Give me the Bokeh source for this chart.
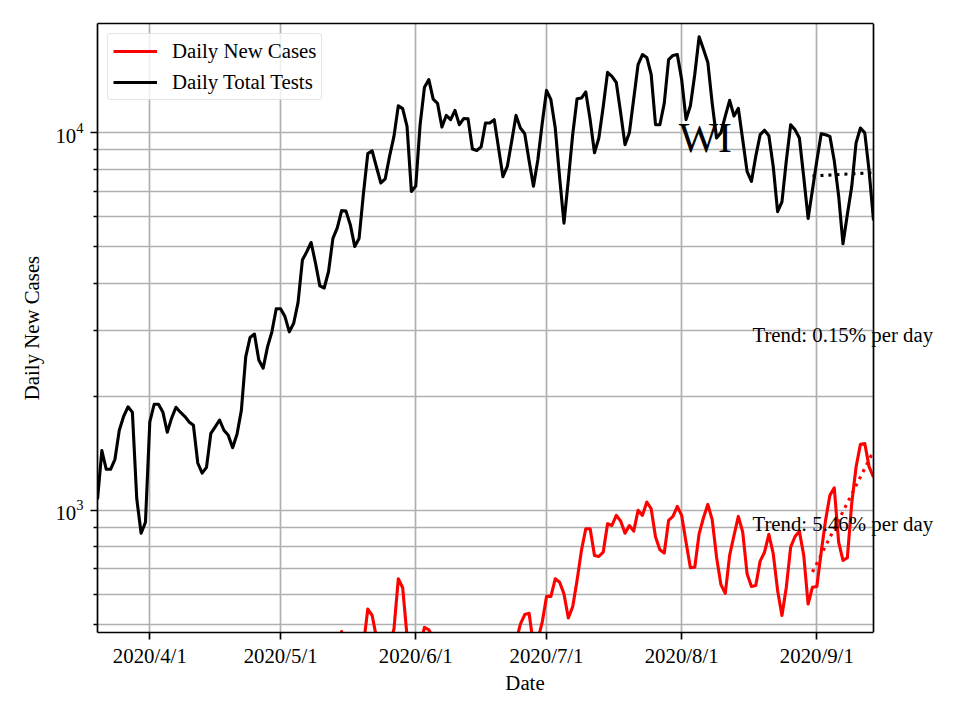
import pandas as pd
from datetime import datetime
from bokeh.plotting import figure
from bokeh.models import (Range1d, FixedTicker, LogTickFormatter, Label, Legend,
                          BoxAnnotation, Span, LinearAxis)
from bokeh.embed import file_html
from bokeh.resources import INLINE

# ---------------- data ----------------
start_date = "2020-03-20"

daily_tests = [
    1070, 1440, 1285, 1285, 1365, 1630, 1775, 1880, 1820, 1075,
    870, 930, 1715, 1910, 1910, 1820, 1610, 1755, 1875, 1820,
    1775, 1715, 1680, 1335, 1255, 1300, 1600, 1665, 1735, 1630,
    1580, 1465, 1590, 1840, 2550, 2870, 2930, 2500, 2380, 2710,
    2970, 3420, 3420, 3260, 2970, 3130, 3550, 4600, 4840, 5120,
    4520, 3930, 3880, 4290, 5250, 5600, 6220, 6200, 5700, 5000,
    5250, 6900, 8800, 8950, 8100, 7360, 7550, 8670, 9780, 11790,
    11580, 10390, 6990, 7220, 10500, 13200, 13820, 12270, 11960, 10350,
    11110, 10830, 11460, 10500, 10900, 10880, 9050, 8970, 9170, 10610,
    10610, 10830, 9100, 7650, 8140, 9480, 11110, 10290, 9940, 8430,
    7220, 8470, 10560, 12940, 12230, 10290, 7620, 5760, 7500, 9880,
    12300, 12350, 12820, 10830, 8850, 9680, 11720, 14450, 14100, 13580,
    11290, 9300, 10000, 12300, 15150, 16100, 15820, 14260, 10500, 10500,
    11960, 15620, 16020, 16100, 13820, 10830, 11790, 14260, 17950, 16630,
    15350, 11960, 9680, 9990, 11070, 12180, 11070, 11600, 9580, 7900,
    7430, 8670, 9880, 10150, 9820, 8140, 6180, 6560, 8430, 10500,
    10180, 9680, 7620, 5930, 7060, 8430, 9940, 9880, 9780, 8430,
    6810, 5080, 6070, 7190, 9400, 10290, 9990, 7900, 5860,
]

daily_cases = [
    50, 75, 90, 60, 40, 160, 120, 100, 140, 160,
    200, 90, 200, 160, 170, 150, 200, 140, 180, 130,
    100, 80, 100, 110, 130, 150, 180, 160, 180, 130,
    140, 190, 160, 180, 220, 210, 300, 250, 190, 250,
    180, 320, 330, 340, 300, 250, 300, 340, 370, 360,
    330, 240, 280, 300, 360, 430, 478, 360, 300, 280,
    330, 440, 548, 527, 460, 400, 330, 440, 485, 659,
    624, 465, 380, 350, 440, 490, 483, 460, 400, 280,
    300, 350, 330, 380, 360, 300, 250, 290, 330, 370,
    350, 380, 310, 280, 400, 420, 450, 500, 530, 534,
    440, 455, 505, 592, 592, 659, 645, 601, 519, 556,
    652, 783, 894, 894, 760, 755, 775, 922, 912, 970,
    937, 870, 912, 881, 1000, 970, 1052, 1010, 850, 787,
    771, 941, 964, 1025, 970, 824, 705, 707, 867, 956,
    1037, 945, 752, 636, 603, 760, 858, 964, 876, 680,
    629, 633, 734, 775, 864, 768, 614, 527, 626, 799,
    853, 881, 760, 565, 626, 629, 775, 941, 1096, 1148,
    824, 737, 749, 1042, 1303, 1497, 1503, 1303, 1225,
]

trend_dates = ["2020-08-31", "2020-09-14"]
tests_trend = [7680, 7840]
cases_trend = [687, 1436]
trend_texts = ["Trend: 0.15% per day", "Trend: 5.46% per day"]
state_label = "WI"

x_tick_dates = ["2020-04-01", "2020-05-01", "2020-06-01", "2020-07-01", "2020-08-01", "2020-09-01"]
x_tick_labels = ["2020/4/1", "2020/5/1", "2020/6/1", "2020/7/1", "2020/8/1", "2020/9/1"]
y_major_ticks = [1000, 10000]
y_minor_ticks = [500, 600, 700, 800, 900, 2000, 3000, 4000, 5000, 6000, 7000, 8000, 9000]

# ---------------- helpers ----------------
EPOCH = datetime(1970, 1, 1)


def ms(d):
    return (pd.Timestamp(d).to_pydatetime() - EPOCH).total_seconds() * 1000.0


dates = pd.date_range(start_date, periods=len(daily_tests), freq="D")
trend_x = [pd.Timestamp(d) for d in trend_dates]

FONT = "Liberation Serif"
FS = "20.8px"
LW = 3.1
GRID = "#b0b0b0"

W, H = 952, 712
LEFT, TOP, AX_RIGHT, BOTTOM = 97, 23, 873, 632   # axes box in page pixels

x0, x1 = ms(dates[0]), ms(dates[-1])
# the frame extends to the right edge of the figure so that the trend texts are not clipped;
# the part right of the axes box is masked in white
x_end = x1 + (x1 - x0) * (W - AX_RIGHT) / (AX_RIGHT - LEFT)

p = figure(
    width=W, height=H,
    x_axis_type="datetime", y_axis_type="log",
    x_range=Range1d(x0, x_end),
    y_range=Range1d(475, 19460),
    output_backend="svg", toolbar_location=None,
    min_border_left=LEFT, min_border_right=0, min_border_top=TOP, min_border_bottom=H - BOTTOM,
)
p.background_fill_color = "white"
p.border_fill_color = "white"
p.outline_line_color = None

r_cases = p.line(dates, daily_cases, line_color="#ff0000", line_width=LW, line_join="round")
r_tests = p.line(dates, daily_tests, line_color="#000000", line_width=LW, line_join="round")
p.line(trend_x, tests_trend, line_color="#000000", line_width=LW, line_dash="3 5")
p.line(trend_x, cases_trend, line_color="#ff0000", line_width=LW, line_dash="3 5")

# axes
xax = p.xaxis[0]
xax.bounds = (x0, x1)
xax.ticker = FixedTicker(ticks=[ms(d) for d in x_tick_dates], minor_ticks=[])
xax.major_label_overrides = {int(ms(d)): lab for d, lab in zip(x_tick_dates, x_tick_labels)}
yax = p.yaxis[0]
yax.ticker = FixedTicker(ticks=y_major_ticks, minor_ticks=y_minor_ticks)
yax.formatter = LogTickFormatter()

for ax in (xax, yax):
    ax.axis_line_color = "black"
    ax.axis_line_width = 1.7
    ax.major_tick_line_color = "black"
    ax.major_tick_line_width = 1.7
    ax.minor_tick_line_color = "black"
    ax.minor_tick_line_width = 1.3
    ax.major_tick_out = 7
    ax.major_tick_in = 0
    ax.minor_tick_in = 0
    ax.major_label_text_font = FONT
    ax.major_label_text_font_size = FS
    ax.major_label_text_color = "black"
    ax.axis_label_text_font = FONT
    ax.axis_label_text_font_size = FS
    ax.axis_label_text_font_style = "normal"
    ax.axis_label_text_color = "black"
xax.minor_tick_out = 0
yax.minor_tick_out = 4
xax.major_label_standoff = 4
yax.major_label_standoff = 7
xax.axis_label = "Date"
yax.axis_label = "Daily New Cases"
xax.axis_label_standoff = 1
yax.axis_label_standoff = 9

# top spine
top_axis = LinearAxis(bounds=(x0, x1), ticker=FixedTicker(ticks=[], minor_ticks=[]),
                      axis_line_color="black", axis_line_width=1.7,
                      major_tick_line_color=None, minor_tick_line_color=None,
                      major_label_text_font_size="0px")
p.add_layout(top_axis, "above")

p.xgrid.grid_line_color = GRID
p.xgrid.grid_line_width = 1.7
p.ygrid.grid_line_color = GRID
p.ygrid.grid_line_width = 1.7
p.ygrid.minor_grid_line_color = GRID
p.ygrid.minor_grid_line_width = 1.7

# mask right of the axes box, and right spine
p.add_layout(BoxAnnotation(left=x1, fill_color="white", fill_alpha=1.0, line_color=None))
p.add_layout(Span(location=x1, dimension="height", line_color="black", line_width=1.7))

# legend
legend = Legend(items=[("Daily New Cases", [r_cases]), ("Daily Total Tests", [r_tests])],
                location="top_left")
legend.margin = 10
legend.padding = 5
legend.spacing = 7
legend.glyph_width = 44
legend.glyph_height = 20
legend.label_height = 20
legend.label_standoff = 15
legend.label_text_font = FONT
legend.label_text_font_size = FS
legend.label_text_color = "black"
legend.border_line_color = "#cccccc"
legend.border_line_width = 1.5
legend.background_fill_color = "white"
legend.background_fill_alpha = 0.8
if "border_radius" in Legend.properties():
    legend.border_radius = 4
p.add_layout(legend)

# annotations
p.add_layout(Label(x=ms("2020-08-17"), y=2806, text=trend_texts[0], text_font=FONT,
                   text_font_size=FS, text_color="black", text_align="left",
                   text_baseline="alphabetic", x_offset=1, y_offset=7))
p.add_layout(Label(x=ms("2020-08-17"), y=885, text=trend_texts[1], text_font=FONT,
                   text_font_size=FS, text_color="black", text_align="left",
                   text_baseline="alphabetic", x_offset=1, y_offset=7))
p.add_layout(Label(x=ms("2020-08-01"), y=8906, text=state_label, text_font=FONT,
                   text_font_size="41.7px", text_color="black", text_align="left",
                   text_baseline="alphabetic", x_offset=-3, y_offset=14))

open("out.html", "w").write(file_html(p, INLINE))
